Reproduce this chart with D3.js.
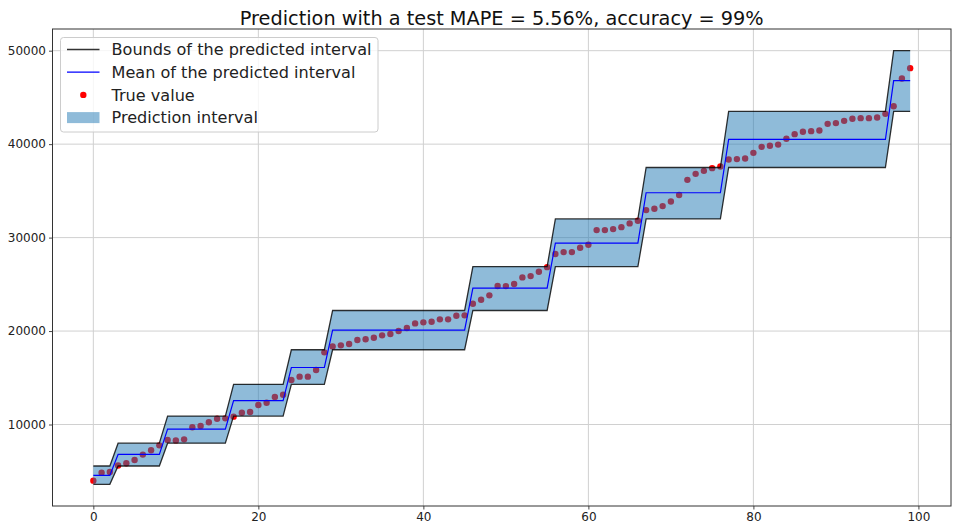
<!DOCTYPE html>
<html>
<head>
<meta charset="utf-8">
<script src="https://cdn.jsdelivr.net/npm/d3@7"></script>
<style>
  html, body { margin: 0; padding: 0; background: #fff; }
  svg { display: block; font-family: "DejaVu Sans", sans-serif; }
</style>
</head>
<body>
<svg id="chart" width="958" height="526"></svg>
<script>
// Predicted interval, one constant step per block of test samples
const segStart = [0, 3, 9, 17, 24, 29, 46, 56, 67, 77, 97];
const segEnd   = [2, 8, 16, 23, 28, 45, 55, 66, 76, 96, 99];
const segLower = [3600, 5560, 8000, 10900, 14300, 18000, 22200, 26900, 32000, 37500, 43500];
const segUpper = [5560, 8000, 10900, 14300, 18000, 22200, 26900, 32000, 37500, 43500, 50000];
const segMean  = [4550, 6800, 9500, 12550, 16100, 20100, 24600, 29400, 34800, 40500, 46800];

// Observed target values, sample index 0..99
const trueValues = [
  3990, 4850, 4920, 5620, 5850, 6200, 6780, 7240, 7770, 8340,
  8300, 8410, 9700, 9840, 10240, 10620, 10660, 10840, 11260, 11340,
  12090, 12330, 12940, 13190, 14760, 15120, 15120, 15830, 17720, 18360,
  18470, 18610, 19040, 19130, 19290, 19540, 19680, 20000, 20320, 20820,
  20930, 21000, 21250, 21250, 21640, 21680, 22920, 23350, 23820, 24820,
  24810, 25030, 25740, 25880, 26340, 26840, 28240, 28450, 28450, 28910,
  29230, 30800, 30800, 30910, 31120, 31520, 31800, 32940, 33080, 33370,
  33870, 34550, 36180, 36820, 37140, 37430, 37610, 38360, 38400, 38470,
  39070, 39710, 39820, 39950, 40570, 41070, 41320, 41390, 41460, 42170,
  42250, 42490, 42710, 42780, 42780, 42850, 43240, 44060, 47030, 48130
];

const xTicks = [0, 20, 40, 60, 80, 100];
const yTicks = [10000, 20000, 30000, 40000, 50000];
const titleText = "Prediction with a test MAPE = 5.56%, accuracy = 99%";
const legendLabels = ["Bounds of the predicted interval", "Mean of the predicted interval", "True value", "Prediction interval"];

// Expand the step blocks to one record per sample index
const rows = [];
segStart.forEach((s, k) => {
  for (let i = s; i <= segEnd[k]; i++) {
    rows.push({ i, lo: segLower[k], hi: segUpper[k], mean: segMean[k], y: trueValues[i] });
  }
});

const svg = d3.select("#chart");
const L = 52.5, R = 951, T = 29, B = 506;

const n = trueValues.length - 1;
const xPad = n * 0.05;
const yMin = d3.min(rows, d => Math.min(d.lo, d.y));
const yMax = d3.max(rows, d => Math.max(d.hi, d.y));
const yPad = (yMax - yMin) * 0.05;

const x = d3.scaleLinear().domain([-xPad, n + xPad]).range([L, R]);
const y = d3.scaleLinear().domain([yMin - yPad, yMax + yPad]).range([B, T]);

svg.append("rect").attr("x", 0).attr("y", 0).attr("width", 958).attr("height", 526).attr("fill", "#fff");

// grid
const grid = svg.append("g").attr("stroke", "#d0d0d0").attr("stroke-width", 1);
xTicks.forEach(t => grid.append("line")
  .attr("x1", x(t)).attr("x2", x(t)).attr("y1", T).attr("y2", B));
yTicks.forEach(t => grid.append("line")
  .attr("x1", L).attr("x2", R).attr("y1", y(t)).attr("y2", y(t)));

// true values (drawn below the translucent interval)
svg.append("g").selectAll("circle").data(rows).join("circle")
  .attr("cx", d => x(d.i)).attr("cy", d => y(d.y)).attr("r", 3.2)
  .attr("fill", "#ff0000");

// interval band
const area = d3.area().x(d => x(d.i)).y0(d => y(d.lo)).y1(d => y(d.hi));
svg.append("path").datum(rows).attr("d", area)
  .attr("fill", "#1f77b4").attr("fill-opacity", 0.5);

// bounds
const lineLo = d3.line().x(d => x(d.i)).y(d => y(d.lo));
const lineHi = d3.line().x(d => x(d.i)).y(d => y(d.hi));
[lineLo, lineHi].forEach(g => svg.append("path").datum(rows).attr("d", g)
  .attr("fill", "none").attr("stroke", "#000").attr("stroke-opacity", 0.8).attr("stroke-width", 1.3));

// mean
const lineMean = d3.line().x(d => x(d.i)).y(d => y(d.mean));
svg.append("path").datum(rows).attr("d", lineMean)
  .attr("fill", "none").attr("stroke", "#0000ff").attr("stroke-width", 1.2);

// axes
const axX = svg.append("g").attr("transform", `translate(0,${B})`)
  .call(d3.axisBottom(x).tickValues(xTicks).tickSize(3.5).tickPadding(3).tickFormat(d3.format("d")));
const axY = svg.append("g").attr("transform", `translate(${L},0)`)
  .call(d3.axisLeft(y).tickValues(yTicks).tickSize(3.5).tickPadding(3).tickFormat(d3.format("d")));
[axX, axY].forEach(a => {
  a.select(".domain").remove();
  a.selectAll("text").attr("font-size", 12).attr("font-family", "DejaVu Sans").attr("fill", "#222");
  a.selectAll("line").attr("stroke", "#333").attr("stroke-width", 0.9);
});

// frame
svg.append("rect").attr("x", L).attr("y", T).attr("width", R - L).attr("height", B - T)
  .attr("fill", "none").attr("stroke", "#333").attr("stroke-width", 1);

// title
svg.append("text").attr("x", (L + R) / 2).attr("y", 25).attr("text-anchor", "middle")
  .attr("font-size", 19.3).attr("fill", "#111").text(titleText);

// legend
const lg = svg.append("g");
lg.append("rect").attr("x", 60.5).attr("y", 37.5).attr("width", 317.5).attr("height", 94.5)
  .attr("rx", 3).attr("fill", "#fff").attr("fill-opacity", 0.8)
  .attr("stroke", "#cccccc").attr("stroke-width", 1);
const rowY = [49.5, 72.2, 94.9, 117.6];
lg.append("line").attr("x1", 67).attr("x2", 99.5).attr("y1", rowY[0]).attr("y2", rowY[0])
  .attr("stroke", "#000").attr("stroke-opacity", 0.8).attr("stroke-width", 1.3);
lg.append("line").attr("x1", 67).attr("x2", 99.5).attr("y1", rowY[1]).attr("y2", rowY[1])
  .attr("stroke", "#0000ff").attr("stroke-width", 1.2);
lg.append("circle").attr("cx", 83.3).attr("cy", rowY[2]).attr("r", 3.2).attr("fill", "#ff0000");
lg.append("rect").attr("x", 67).attr("y", rowY[3] - 5.5).attr("width", 32.5).attr("height", 11)
  .attr("fill", "#1f77b4").attr("fill-opacity", 0.5);
legendLabels.forEach((t, i) => lg.append("text")
  .attr("x", 111.5).attr("y", rowY[i]).attr("dy", "0.36em")
  .attr("font-size", 16.1).attr("fill", "#222").text(t));
</script>
</body>
</html>
